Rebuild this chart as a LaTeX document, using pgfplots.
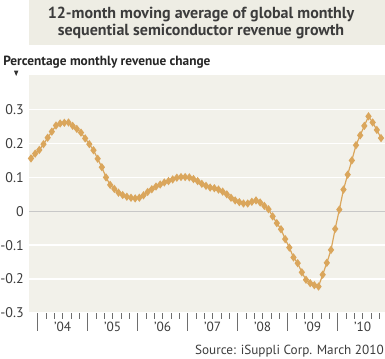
\documentclass[border=0pt]{standalone}
\usepackage{fontspec}
\setmainfont{PT Sans}
\usepackage{pgfplots}
\pgfplotsset{compat=1.18}
\definecolor{bgc}{RGB}{242,241,234}
\definecolor{titlebg}{RGB}{238,237,228}
\definecolor{tanc}{RGB}{218,166,92}
\definecolor{txt}{RGB}{60,60,60}
\definecolor{zl}{RGB}{200,200,200}
\definecolor{tk}{RGB}{110,110,110}
\begin{document}
\begin{tikzpicture}
\path[use as bounding box] (-21.75pt,-34.5pt) rectangle (267pt,234.75pt);
\fill[titlebg] (0pt,201pt) rectangle (267pt,234.75pt);
\node[align=center, font=\fontsize{12}{12.75}\bfseries\selectfont, text=txt, inner sep=0pt] at (129pt,217.6pt) {12-month moving average of global monthly\\sequential semiconductor revenue growth};
\node[anchor=west, font=\fontsize{10}{10}\bfseries\selectfont, text=black!85, inner sep=0pt] at (-19.5pt,188.25pt) {Percentage monthly revenue change};
\fill[black!80] (-11.25pt,181.7pt) -- (-8pt,181.7pt) -- (-9.625pt,177.75pt) -- cycle;
\begin{axis}[
  at={(0,0)}, anchor=south west,
  scale only axis, width=267pt, height=178.5pt,
  xmin=-0.48, xmax=84.96, ymin=-0.3, ymax=0.402,
  axis line style={draw=none},
  axis background/.style={fill=bgc},
  ytick={-0.3,-0.2,-0.1,0.1,0.2,0.3},
  yticklabels={-0.3,-0.2,-0.1,0.1,0.2,0.3},
  extra y ticks={0}, extra y tick labels={0},
  extra y tick style={grid style={zl, line width=1.1pt}},
  ymajorgrids, grid style={white, line width=1.1pt},
  ytick style={draw=none},
  yticklabel style={anchor=east, inner sep=0pt, xshift=-3.75pt, text=txt, font=\fontsize{10.5}{12}\selectfont},
  xtick pos=left,
  xtick={7.6,19.6,31.6,43.6,55.6,67.6,79.6},
  xticklabels={'04,'05,'06,'07,'08,'09,'10},
  xticklabel style={anchor=base, inner sep=0pt, yshift=-14.25pt, text=txt, font=\fontsize{10}{12}\selectfont},
  tick align=outside,
  major tick length=0pt,
  minor xtick={1.6,3.6,...,83.6},
  minor tick length=4.5pt,
  minor tick style={tk, line width=0.6pt},
  extra x ticks={1.6,13.6,25.6,37.6,49.6,61.6,73.6},
  extra x tick labels={},
  extra x tick style={major tick length=13.5pt, tick style={tk, line width=0.8pt}},
]
\addplot[tanc, line width=0.9pt, mark=diamond*, mark size=2.4pt, mark options={solid, fill=tanc, draw=tanc}] table {
x y
0 0.156
1 0.170
2 0.181
3 0.198
4 0.217
5 0.235
6 0.253
7 0.259
8 0.261
9 0.262
10 0.252
11 0.243
12 0.232
13 0.215
14 0.198
15 0.180
16 0.155
17 0.130
18 0.100
19 0.078
20 0.066
21 0.055
22 0.048
23 0.043
24 0.040
25 0.038
26 0.040
27 0.047
28 0.057
29 0.065
30 0.073
31 0.079
32 0.085
33 0.089
34 0.094
35 0.099
36 0.101
37 0.101
38 0.100
39 0.095
40 0.089
41 0.081
42 0.075
43 0.070
44 0.068
45 0.064
46 0.058
47 0.050
48 0.040
49 0.032
50 0.027
51 0.023
52 0.023
53 0.028
54 0.032
55 0.026
56 0.016
57 0.006
58 -0.015
59 -0.035
60 -0.053
61 -0.082
62 -0.107
63 -0.136
64 -0.153
65 -0.180
66 -0.202
67 -0.212
68 -0.218
69 -0.222
70 -0.187
71 -0.152
72 -0.114
73 -0.052
74 0.005
75 0.064
76 0.108
77 0.150
78 0.195
79 0.224
80 0.252
81 0.280
82 0.262
83 0.240
84 0.216
};
\end{axis}
\node[anchor=base east, font=\fontsize{9.9}{11}\selectfont, text=txt, inner sep=0pt] at (266.25pt,-31.5pt) {Source: iSuppli Corp. March 2010};
\end{tikzpicture}
\end{document}
